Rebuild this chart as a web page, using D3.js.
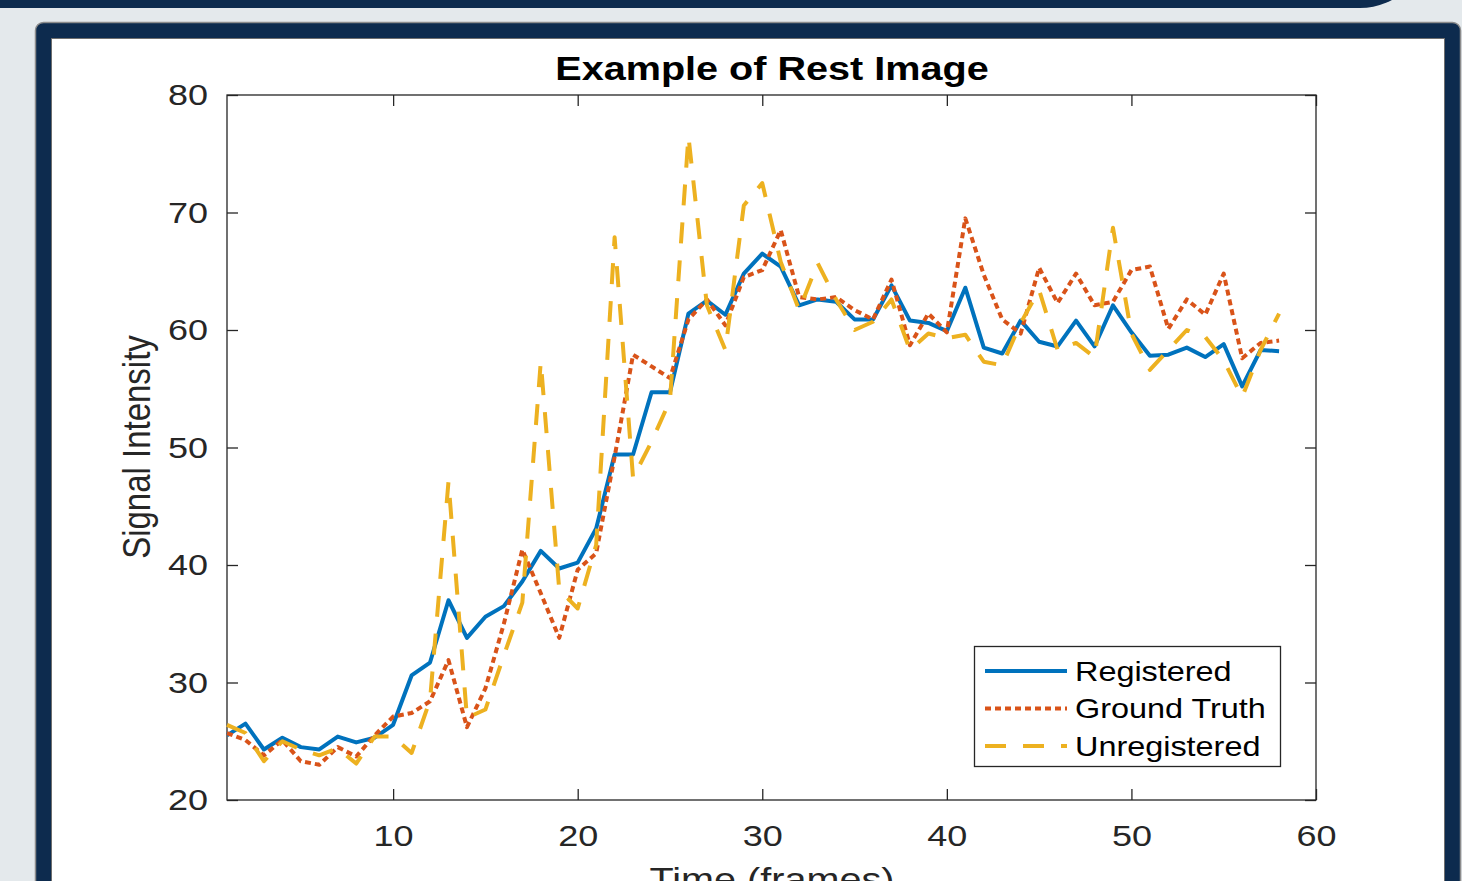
<!DOCTYPE html>
<html>
<head>
<meta charset="utf-8">
<script src="https://cdn.jsdelivr.net/npm/d3@7"></script>
<style>
    html, body { margin: 0; padding: 0; background: #e4e9ec; overflow: hidden; }
    svg { display: block; }
    text { font-family: "Liberation Sans", Arial, Helvetica, sans-serif; }
</style>
</head>
<body>
<div id="chart"></div>
<script>

var frames = d3.range(1, 59);

var registered = [
    25.5, 26.5, 24.3, 25.3, 24.5, 24.3, 25.4, 24.9, 25.3, 26.4,
    30.6, 31.7, 37.0, 33.8, 35.6, 36.5, 38.6, 41.2, 39.7, 40.2,
    43.1, 49.4, 49.4, 54.7, 54.7, 61.4, 62.5, 61.3, 64.8, 66.5,
    65.4, 62.1, 62.6, 62.4, 60.9, 60.9, 63.8, 60.8, 60.6, 59.9,
    63.6, 58.5, 58.0, 60.8, 59.0, 58.6, 60.8, 58.6, 62.1, 59.8,
    57.8, 57.9, 58.5, 57.7, 58.8, 55.2, 58.3, 58.2
];

var groundTruth = [
    25.7, 25.1, 23.8, 25.1, 23.3, 23.0, 24.5, 23.7, 25.5, 27.1,
    27.4, 28.4, 31.9, 26.2, 29.5, 35.0, 41.3, 37.6, 33.8, 39.6,
    41.0, 49.2, 57.9, 56.9, 55.9, 60.9, 62.6, 60.4, 64.5, 65.1,
    68.5, 62.8, 62.6, 62.8, 61.7, 60.9, 64.3, 58.7, 61.4, 59.8,
    69.5, 64.7, 60.9, 59.7, 65.3, 62.3, 64.8, 62.1, 62.4, 65.1,
    65.4, 60.1, 62.6, 61.3, 64.8, 57.6, 58.9, 59.1
];

var unregistered = [
    26.4, 25.7, 23.3, 25.0, 24.3, 23.8, 24.4, 23.1, 25.4, 25.4,
    24.0, 28.5, 47.1, 27.0, 27.7, 32.3, 36.8, 57.3, 37.9, 36.3,
    41.7, 67.9, 47.4, 50.5, 54.0, 76.5, 62.1, 58.3, 70.6, 72.5,
    65.8, 61.7, 65.7, 62.6, 60.0, 60.7, 62.6, 58.3, 59.7, 59.3,
    59.6, 57.3, 57.0, 60.6, 63.4, 58.3, 58.9, 57.7, 68.7, 59.7,
    56.6, 58.3, 60.0, 59.4, 57.4, 54.3, 58.3, 61.4
];

var seriesNames = ["Registered", "Ground Truth", "Unregistered"];
var seriesColors = ["#0072bd", "#d95319", "#edb120"];
var seriesDash = [null, "6,4", "21,17"];

var xTicks = [10, 20, 30, 40, 50, 60];
var yTicks = [20, 30, 40, 50, 60, 70, 80];

var width = 1462,
    height = 881,
    navy = "#0d2b4e",
    ink = "#262626",
    stretch = 1.2,
    svg,
    x,
    y,
    line,
    legend;

svg = d3.select("#chart").append("svg")
    .attr("width", width)
    .attr("height", height);

// page frame
svg.append("rect")
    .attr("width", width).attr("height", height)
    .attr("fill", "#e4e9ec");

svg.append("rect")
    .attr("x", -100).attr("y", 8 - 200)
    .attr("width", 1528).attr("height", 200)
    .attr("rx", 68)
    .attr("fill", navy);

svg.append("rect")
    .attr("x", 35.5).attr("y", 22.5)
    .attr("width", 1425).attr("height", 920)
    .attr("rx", 8)
    .attr("fill", navy)
    .attr("stroke", "#8c8c8c")
    .attr("stroke-width", 1.5);

svg.append("rect")
    .attr("x", 51.5).attr("y", 38.5)
    .attr("width", 1393).attr("height", 900)
    .attr("fill", "#ffffff")
    .attr("stroke", "#6e6e6e")
    .attr("stroke-width", 1);

x = d3.scaleLinear().domain([1, 60]).range([227, 1316]);
y = d3.scaleLinear().domain([20, 80]).range([800, 95]);

// axes, ticks pointing inward like matlab
svg.append("g")
    .attr("transform", "translate(0,800)")
    .call(d3.axisBottom(x).tickValues(xTicks).tickSize(-11).tickSizeOuter(0).tickPadding(25))
    .call(styleAxis)
    .selectAll("text")
    .attr("transform", "scale(" + stretch + ",1)");

svg.append("g")
    .attr("transform", "translate(0,95)")
    .call(d3.axisTop(x).tickValues(xTicks).tickSize(-11).tickSizeOuter(0).tickFormat(""))
    .call(styleAxis);

svg.append("g")
    .attr("transform", "translate(227,0)")
    .call(d3.axisLeft(y).tickValues(yTicks).tickSize(-11).tickSizeOuter(0))
    .call(styleAxis)
    .selectAll("text")
    .attr("x", 0)
    .attr("transform", "translate(-19,0) scale(" + stretch + ",1)");

svg.append("g")
    .attr("transform", "translate(1316,0)")
    .call(d3.axisRight(y).tickValues(yTicks).tickSize(-11).tickSizeOuter(0).tickFormat(""))
    .call(styleAxis);

svg.append("rect")
    .attr("x", 227).attr("y", 95)
    .attr("width", 1316 - 227).attr("height", 800 - 95)
    .attr("fill", "none")
    .attr("stroke", ink)
    .attr("stroke-width", 1.3);

function styleAxis(g) {
    g.select(".domain").remove();
    g.selectAll(".tick line").attr("stroke", ink).attr("stroke-width", 1.3);
    g.selectAll(".tick text")
        .attr("fill", ink)
        .style("font-size", "30px")
        .style("font-family", "'Liberation Sans', Arial, sans-serif");
}

// series
line = d3.line()
    .x(function(d, i) { return x(frames[i]); })
    .y(function(d) { return y(d); });

[registered, groundTruth, unregistered].forEach(function(values, k) {
    svg.append("path")
        .datum(values)
        .attr("d", line)
        .attr("fill", "none")
        .attr("stroke", seriesColors[k])
        .attr("stroke-width", 4)
        .attr("stroke-linejoin", "round")
        .attr("stroke-dasharray", seriesDash[k]);
});

// labels
svg.append("text")
    .attr("transform", "translate(772,80) scale(" + stretch + ",1)")
    .attr("text-anchor", "middle")
    .style("font-size", "33px")
    .style("font-weight", "bold")
    .attr("fill", "#000")
    .text("Example of Rest Image");

svg.append("text")
    .attr("transform", "translate(150,447) scale(" + stretch + ",1) rotate(-90)")
    .attr("text-anchor", "middle")
    .style("font-size", "33px")
    .attr("fill", ink)
    .text("Signal Intensity");

svg.append("text")
    .attr("transform", "translate(772,891) scale(" + stretch + ",1)")
    .attr("text-anchor", "middle")
    .style("font-size", "33px")
    .attr("fill", ink)
    .text("Time (frames)");

// legend
legend = svg.append("g");

legend.append("rect")
    .attr("x", 974.5).attr("y", 646.5)
    .attr("width", 306).attr("height", 120)
    .attr("fill", "#ffffff")
    .attr("stroke", ink)
    .attr("stroke-width", 1.3);

seriesNames.forEach(function(name, k) {
    var cy = 671 + k * 37.5;

    legend.append("line")
        .attr("x1", 985).attr("x2", 1067)
        .attr("y1", cy).attr("y2", cy)
        .attr("stroke", seriesColors[k])
        .attr("stroke-width", 4)
        .attr("stroke-dasharray", seriesDash[k]);

    legend.append("text")
        .attr("transform", "translate(1075," + cy + ") scale(" + stretch + ",1)")
        .attr("dy", "0.36em")
        .style("font-size", "27px")
        .attr("fill", "#000")
        .text(name);
});

</script>
</body>
</html>
